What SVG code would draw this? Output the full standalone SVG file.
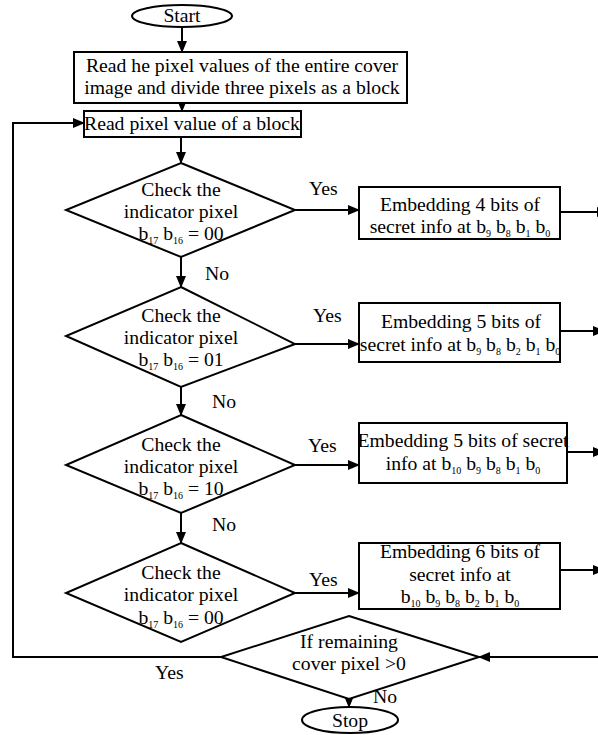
<svg xmlns="http://www.w3.org/2000/svg" width="598" height="735" viewBox="0 0 598 735" font-family="'Liberation Serif', 'DejaVu Serif', serif">
  <style>
    text { font-family: 'Liberation Serif', 'DejaVu Serif', serif; font-size: 19.7px; fill: #000; }
    .c { text-anchor: middle; }
    .s { font-size: 10px; }
    .shape { fill: #fff; stroke: #000; stroke-width: 2; }
    .line { fill: none; stroke: #000; stroke-width: 2; }
  </style>
  <defs>
    <marker id="arrow" markerUnits="userSpaceOnUse" markerWidth="12" markerHeight="10" refX="11" refY="5" orient="auto">
      <path d="M0,0 L12,5 L0,10 z" fill="#000"/>
    </marker>
  </defs>

  <!-- connectors -->
  <g id="connectors">
    <line class="line" x1="182" y1="27" x2="182" y2="52" marker-end="url(#arrow)"/>
    <line class="line" x1="182" y1="103" x2="182" y2="111" marker-end="url(#arrow)"/>
    <line class="line" x1="181" y1="137" x2="181" y2="163" marker-end="url(#arrow)"/>
    <line class="line" x1="181" y1="257" x2="181" y2="287" marker-end="url(#arrow)"/>
    <line class="line" x1="181" y1="387" x2="181" y2="415" marker-end="url(#arrow)"/>
    <line class="line" x1="181" y1="513" x2="181" y2="543" marker-end="url(#arrow)"/>
    <line class="line" x1="295" y1="210" x2="359" y2="210" marker-end="url(#arrow)"/>
    <line class="line" x1="295" y1="344" x2="359" y2="344" marker-end="url(#arrow)"/>
    <line class="line" x1="295" y1="465" x2="359" y2="465" marker-end="url(#arrow)"/>
    <line class="line" x1="295" y1="593" x2="359" y2="593" marker-end="url(#arrow)"/>
    <!-- outputs of the embedding boxes run off to the right-hand collector -->
    <line class="line" x1="560" y1="212" x2="608" y2="212" marker-end="url(#arrow)"/>
    <line class="line" x1="560" y1="331" x2="604" y2="331" marker-end="url(#arrow)"/>
    <line class="line" x1="567" y1="452" x2="604" y2="452" marker-end="url(#arrow)"/>
    <line class="line" x1="560" y1="570" x2="604" y2="570" marker-end="url(#arrow)"/>
    <line class="line" x1="598" y1="657" x2="479" y2="657" marker-end="url(#arrow)"/>
    <!-- loop back to the next block -->
    <polyline class="line" points="221,657 13,657 13,123 84,123" marker-end="url(#arrow)"/>
    <line class="line" x1="349" y1="699" x2="349" y2="707" marker-end="url(#arrow)"/>
    <text x="205" y="280">No</text>
    <text x="212" y="408">No</text>
    <text x="212" y="531">No</text>
    <text x="309" y="195">Yes</text>
    <text x="313" y="322">Yes</text>
    <text x="308" y="452">Yes</text>
    <text x="309" y="586">Yes</text>
    <text x="155" y="679">Yes</text>
    <text x="373" y="703">No</text>
  </g>

  <g id="start">
    <ellipse class="shape" cx="182" cy="16" rx="50" ry="11"/>
    <text class="c" x="182" y="22">Start</text>
  </g>

  <g id="read-image">
    <rect class="shape" x="74" y="52" width="333" height="51"/>
    <text class="c" x="242" y="72">Read he pixel values of the entire cover</text>
    <text class="c" x="242" y="94">image and divide three pixels as a block</text>
  </g>

  <g id="read-block">
    <rect class="shape" x="84" y="111" width="217" height="26"/>
    <text class="c" x="192" y="130">Read pixel value of a block</text>
  </g>

  <g id="check-00">
    <polygon class="shape" points="181,163 295,210 181,257 66,210"/>
    <text class="c" x="181" y="196">Check the</text>
    <text class="c" x="181" y="218">indicator pixel</text>
    <text class="c" x="181" y="240">b<tspan class="s" dy="4">17</tspan><tspan dy="-4"> b</tspan><tspan class="s" dy="4">16</tspan><tspan dy="-4"> = 00</tspan></text>
  </g>

  <g id="check-01">
    <polygon class="shape" points="181,287 295,344 181,387 66,336"/>
    <text class="c" x="181" y="322">Check the</text>
    <text class="c" x="181" y="344">indicator pixel</text>
    <text class="c" x="181" y="366">b<tspan class="s" dy="4">17</tspan><tspan dy="-4"> b</tspan><tspan class="s" dy="4">16</tspan><tspan dy="-4"> = 01</tspan></text>
  </g>

  <g id="check-10">
    <polygon class="shape" points="181,415 295,465 181,513 66,465"/>
    <text class="c" x="181" y="451">Check the</text>
    <text class="c" x="181" y="473">indicator pixel</text>
    <text class="c" x="181" y="495">b<tspan class="s" dy="4">17</tspan><tspan dy="-4"> b</tspan><tspan class="s" dy="4">16</tspan><tspan dy="-4"> = 10</tspan></text>
  </g>

  <g id="check-00b">
    <polygon class="shape" points="181,543 295,593 181,642 66,593"/>
    <text class="c" x="181" y="579">Check the</text>
    <text class="c" x="181" y="601">indicator pixel</text>
    <text class="c" x="181" y="624">b<tspan class="s" dy="4">17</tspan><tspan dy="-4"> b</tspan><tspan class="s" dy="4">16</tspan><tspan dy="-4"> = 00</tspan></text>
  </g>

  <g id="embed-4">
    <rect class="shape" x="359" y="187" width="201" height="52"/>
    <text class="c" x="460" y="211">Embedding 4 bits of</text>
    <text class="c" x="460" y="233">secret info at b<tspan class="s" dy="4">9</tspan><tspan dy="-4"> b</tspan><tspan class="s" dy="4">8</tspan><tspan dy="-4"> b</tspan><tspan class="s" dy="4">1</tspan><tspan dy="-4"> b</tspan><tspan class="s" dy="4">0</tspan></text>
  </g>

  <g id="embed-5a">
    <rect class="shape" x="359" y="303" width="201" height="59"/>
    <text class="c" x="461" y="328">Embedding 5 bits of</text>
    <text class="c" x="460" y="351">secret info at b<tspan class="s" dy="4">9</tspan><tspan dy="-4"> b</tspan><tspan class="s" dy="4">8</tspan><tspan dy="-4"> b</tspan><tspan class="s" dy="4">2</tspan><tspan dy="-4"> b</tspan><tspan class="s" dy="4">1</tspan><tspan dy="-4"> b</tspan><tspan class="s" dy="4">0</tspan></text>
  </g>

  <g id="embed-5b">
    <rect class="shape" x="359" y="423" width="208" height="60"/>
    <text class="c" x="463" y="447">Embedding 5 bits of secret</text>
    <text class="c" x="463" y="470">info at b<tspan class="s" dy="4">10</tspan><tspan dy="-4"> b</tspan><tspan class="s" dy="4">9</tspan><tspan dy="-4"> b</tspan><tspan class="s" dy="4">8</tspan><tspan dy="-4"> b</tspan><tspan class="s" dy="4">1</tspan><tspan dy="-4"> b</tspan><tspan class="s" dy="4">0</tspan></text>
  </g>

  <g id="embed-6">
    <rect class="shape" x="359" y="543" width="201" height="66"/>
    <text class="c" x="460" y="558">Embedding 6 bits of</text>
    <text class="c" x="460" y="581">secret info at</text>
    <text class="c" x="460" y="603">b<tspan class="s" dy="4">10</tspan><tspan dy="-4"> b</tspan><tspan class="s" dy="4">9</tspan><tspan dy="-4"> b</tspan><tspan class="s" dy="4">8</tspan><tspan dy="-4"> b</tspan><tspan class="s" dy="4">2</tspan><tspan dy="-4"> b</tspan><tspan class="s" dy="4">1</tspan><tspan dy="-4"> b</tspan><tspan class="s" dy="4">0</tspan></text>
  </g>

  <g id="remaining">
    <polygon class="shape" points="349,616 479,657 349,699 221,657"/>
    <text class="c" x="349" y="648">If remaining</text>
    <text class="c" x="349" y="670">cover pixel &gt;0</text>
  </g>

  <g id="stop">
    <ellipse class="shape" cx="350" cy="720" rx="48" ry="13"/>
    <text class="c" x="350" y="727">Stop</text>
  </g>
</svg>
